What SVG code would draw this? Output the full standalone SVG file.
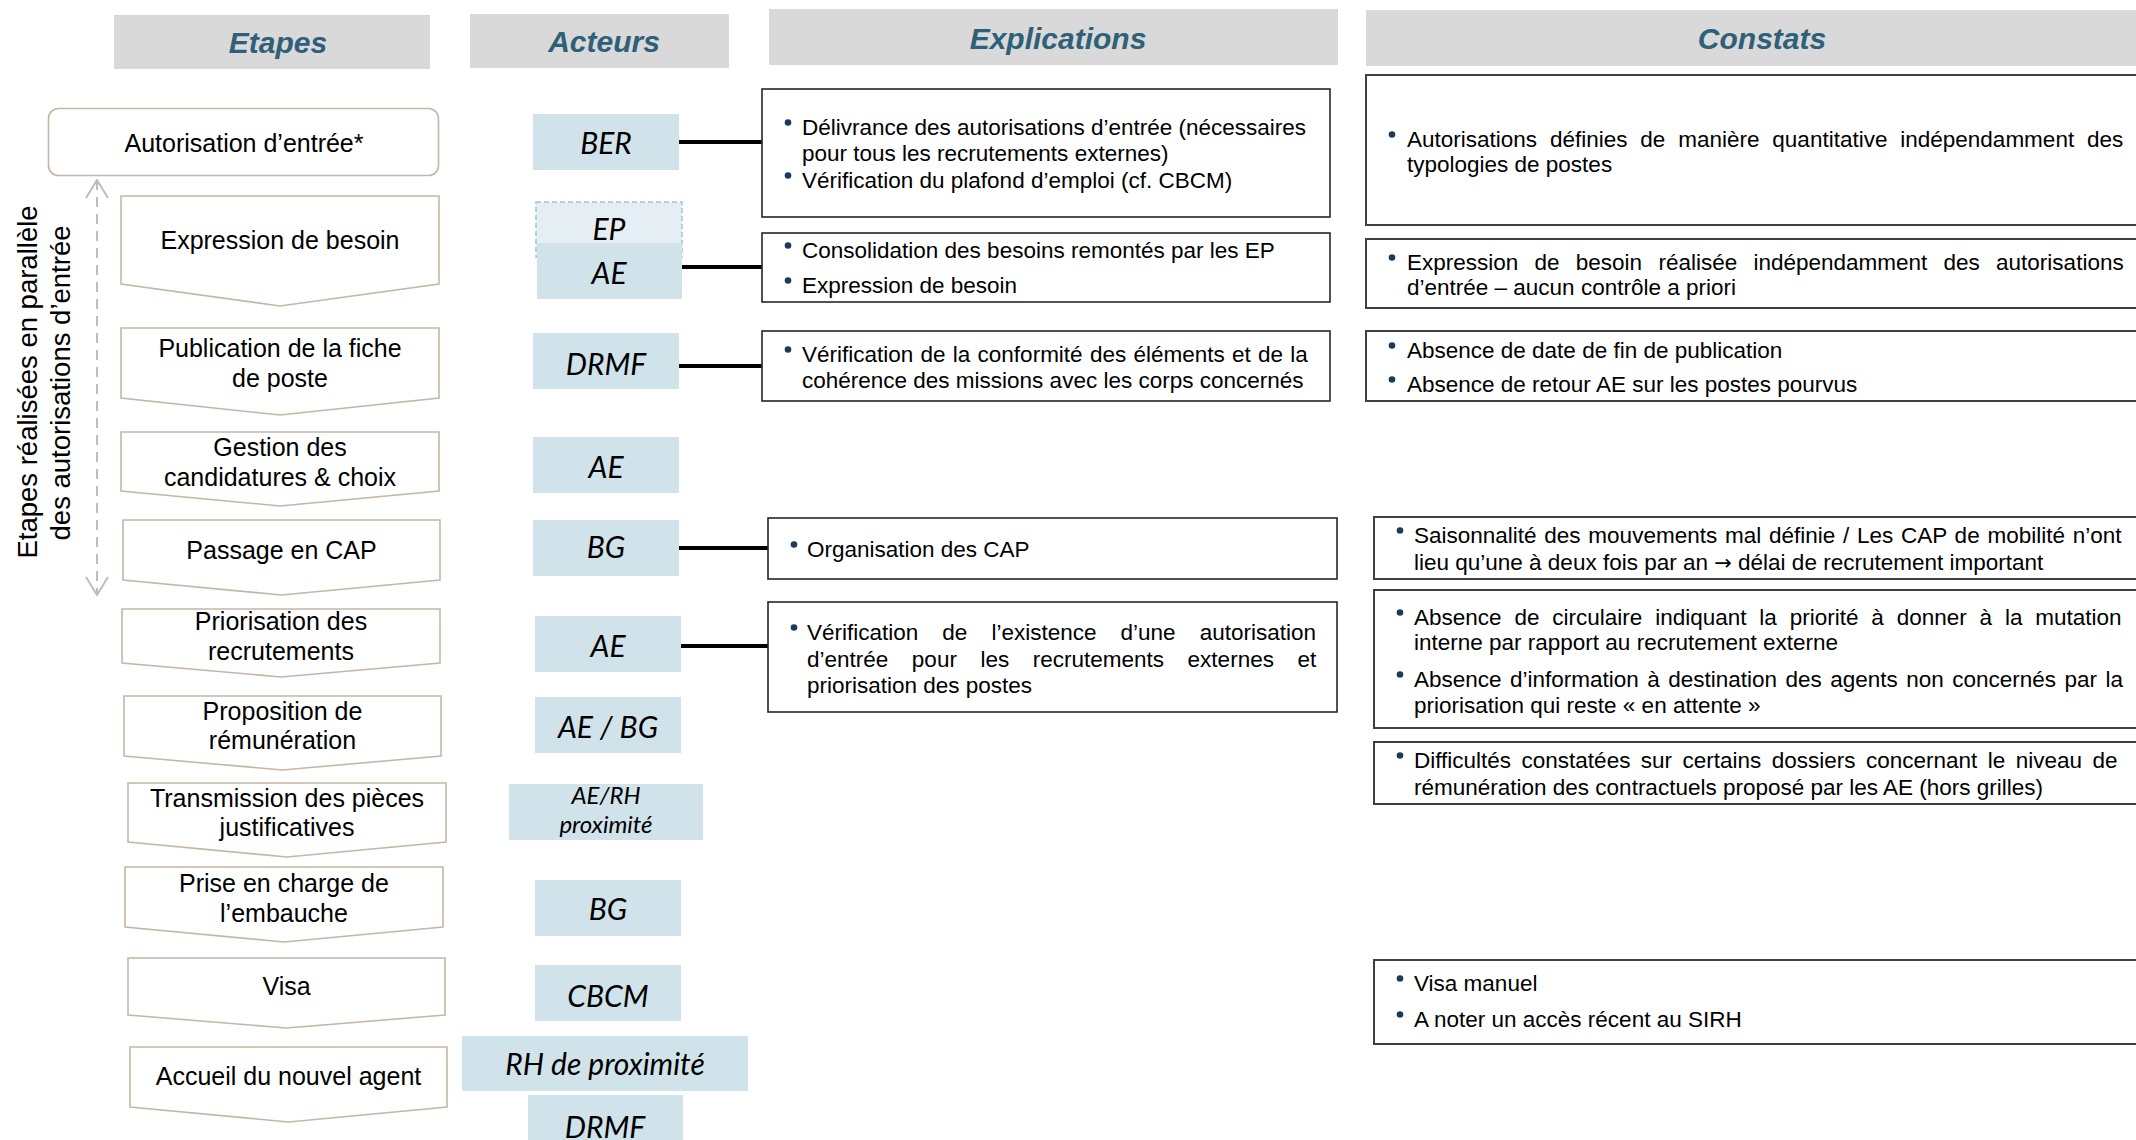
<svg xmlns="http://www.w3.org/2000/svg" width="2136" height="1140" viewBox="0 0 2136 1140">
<style>
.hdr{fill:#d9d9d9}
.htx{font-family:"Liberation Sans",Arial,sans-serif;font-weight:bold;font-style:italic;font-size:30px;fill:#2f6079;text-anchor:middle}
.step{fill:#fff;stroke:#c6b6a6;stroke-width:1.6}
.stx{font-family:"Liberation Sans",Arial,sans-serif;font-size:25px;fill:#000;text-anchor:middle}
.act{fill:#d1e3ea}
.atx{font-family:Lato,"Open Sans",sans-serif;font-style:italic;font-size:30px;fill:#000;text-anchor:middle}
.ebox{fill:#fff;stroke:#262626;stroke-width:1.6}
.cbox{fill:#fff;stroke:#3f3f3f;stroke-width:2}
.btx{font-family:"Liberation Sans",Arial,sans-serif;font-size:22.5px;fill:#000}
.bul{fill:#1b3a5c}
.conn{stroke:#000;stroke-width:4;fill:none}
.side{font-family:"Liberation Sans",Arial,sans-serif;font-size:27.5px;fill:#000;text-anchor:middle}
</style>
<defs>
<marker id="chev" viewBox="0 0 20 24" refX="19" refY="12" markerWidth="20" markerHeight="24" markerUnits="userSpaceOnUse" orient="auto-start-reverse">
<path d="M1,1 L19,12 L1,23" fill="none" stroke="#bdbdbd" stroke-width="2"/>
</marker>
</defs>

<g id="headers">
<rect class="hdr" x="114" y="15" width="316" height="54"/>
<text class="htx" x="278" y="53">Etapes</text>
<rect class="hdr" x="470" y="14" width="259" height="54"/>
<text class="htx" x="604" y="52">Acteurs</text>
<rect class="hdr" x="769" y="9" width="569" height="56"/>
<text class="htx" x="1058" y="49">Explications</text>
<rect class="hdr" x="1366" y="10" width="775" height="56"/>
<text class="htx" x="1762" y="49">Constats</text>
</g>

<g id="side-note">
<path d="M97,180 L97,595" stroke="#bdbdbd" stroke-width="2" stroke-dasharray="10,7" fill="none" marker-start="url(#chev)" marker-end="url(#chev)"/>
<text class="side" transform="translate(37,382) rotate(-90)">Etapes réalisées en parallèle</text>
<text class="side" transform="translate(70,383) rotate(-90)">des autorisations d’entrée</text>
</g>

<g id="step-autorisation">
<rect class="step" x="48.5" y="108.5" width="390" height="67" rx="10"/>
<text class="stx" x="244" y="152">Autorisation d’entrée*</text>
</g>
<g id="step-expression">
<polygon class="step" points="121,196 439,196 439,284 280,306 121,284"/>
<text class="stx" x="280" y="249">Expression de besoin</text>
</g>
<g id="step-publication">
<polygon class="step" points="121,328 439,328 439,398 280,415 121,398"/>
<text class="stx" x="280" y="357">Publication de la fiche</text>
<text class="stx" x="280" y="387">de poste</text>
</g>
<g id="step-gestion">
<polygon class="step" points="121,432 439,432 439,491 280,506 121,491"/>
<text class="stx" x="280" y="456">Gestion des</text>
<text class="stx" x="280" y="486">candidatures &amp; choix</text>
</g>
<g id="step-cap">
<polygon class="step" points="123,520 440,520 440,580 281.5,595 123,580"/>
<text class="stx" x="281.5" y="559">Passage en CAP</text>
</g>
<g id="step-priorisation">
<polygon class="step" points="122,609 440,609 440,663 281,677 122,663"/>
<text class="stx" x="281" y="630">Priorisation des</text>
<text class="stx" x="281" y="660">recrutements</text>
</g>
<g id="step-proposition">
<polygon class="step" points="124,696 441,696 441,756 282.5,770 124,756"/>
<text class="stx" x="282.5" y="720">Proposition de</text>
<text class="stx" x="282.5" y="749">rémunération</text>
</g>
<g id="step-transmission">
<polygon class="step" points="128,783 446,783 446,842 287,857 128,842"/>
<text class="stx" x="287" y="807">Transmission des pièces</text>
<text class="stx" x="287" y="836">justificatives</text>
</g>
<g id="step-prise">
<polygon class="step" points="125,867 443,867 443,927 284,942 125,927"/>
<text class="stx" x="284" y="892">Prise en charge de</text>
<text class="stx" x="284" y="922">l’embauche</text>
</g>
<g id="step-visa">
<polygon class="step" points="128,958 445,958 445,1015 286.5,1028 128,1015"/>
<text class="stx" x="286.5" y="995">Visa</text>
</g>
<g id="step-accueil">
<polygon class="step" points="130,1047 447,1047 447,1107 288.5,1122 130,1107"/>
<text class="stx" x="288.5" y="1085">Accueil du nouvel agent</text>
</g>

<g id="connectors">
<line class="conn" x1="679" y1="142" x2="763" y2="142"/>
<line class="conn" x1="682" y1="267" x2="763" y2="267"/>
<line class="conn" x1="679" y1="366" x2="763" y2="366"/>
<line class="conn" x1="679" y1="548" x2="769" y2="548"/>
<line class="conn" x1="681" y1="646" x2="769" y2="646"/>
</g>

<g id="actor-ber"><rect class="act" x="533" y="114" width="146" height="56"/><text class="atx" x="606" y="154">BER</text></g>
<g id="actor-ep"><rect x="536" y="202" width="146" height="55" fill="#e5eef3" stroke="#9ec5d8" stroke-width="1.5" stroke-dasharray="5,3"/><text class="atx" x="609" y="240">EP</text></g>
<g id="actor-ae1"><rect class="act" x="537" y="243" width="145" height="56"/><text class="atx" x="609" y="284">AE</text></g>
<g id="actor-drmf1"><rect class="act" x="533" y="333" width="146" height="56"/><text class="atx" x="606" y="375">DRMF</text></g>
<g id="actor-ae2"><rect class="act" x="533" y="437" width="146" height="56"/><text class="atx" x="606" y="478">AE</text></g>
<g id="actor-bg1"><rect class="act" x="533" y="520" width="146" height="56"/><text class="atx" x="606" y="558">BG</text></g>
<g id="actor-ae3"><rect class="act" x="535" y="616" width="146" height="56"/><text class="atx" x="608" y="657">AE</text></g>
<g id="actor-aebg"><rect class="act" x="535" y="697" width="146" height="56"/><text class="atx" x="608" y="738">AE / BG</text></g>
<g id="actor-aerh"><rect class="act" x="509" y="784" width="194" height="56"/><text class="atx" x="606" y="804" style="font-size:24px">AE/RH</text><text class="atx" x="606" y="833" style="font-size:24px">proximité</text></g>
<g id="actor-bg2"><rect class="act" x="535" y="880" width="146" height="56"/><text class="atx" x="608" y="920">BG</text></g>
<g id="actor-cbcm"><rect class="act" x="535" y="965" width="146" height="56"/><text class="atx" x="608" y="1007">CBCM</text></g>
<g id="actor-rh"><rect class="act" x="462" y="1036" width="286" height="55"/><text class="atx" x="605" y="1075">RH de proximité</text></g>
<g id="actor-drmf2"><rect class="act" x="528" y="1095" width="155" height="50"/><text class="atx" x="605" y="1138">DRMF</text></g>

<g id="expl-1">
<rect class="ebox" x="762" y="89" width="568" height="128"/>
<circle class="bul" cx="788" cy="122.5" r="3.3"/>
<text class="btx" x="802" y="135">Délivrance des autorisations d’entrée (nécessaires</text>
<text class="btx" x="802" y="161">pour tous les recrutements externes)</text>
<circle class="bul" cx="788" cy="175.5" r="3.3"/>
<text class="btx" x="802" y="188">Vérification du plafond d’emploi (cf. CBCM)</text>
</g>
<g id="expl-2">
<rect class="ebox" x="762" y="233" width="568" height="69"/>
<circle class="bul" cx="788" cy="245.5" r="3.3"/>
<text class="btx" x="802" y="258">Consolidation des besoins remontés par les EP</text>
<circle class="bul" cx="788" cy="280.5" r="3.3"/>
<text class="btx" x="802" y="293">Expression de besoin</text>
</g>
<g id="expl-3">
<rect class="ebox" x="762" y="331" width="568" height="70"/>
<circle class="bul" cx="788" cy="349.5" r="3.3"/>
<text class="btx" x="802" y="362" word-spacing="1">Vérification de la conformité des éléments et de la</text>
<text class="btx" x="802" y="388">cohérence des missions avec les corps concernés</text>
</g>
<g id="expl-4">
<rect class="ebox" x="768" y="518" width="569" height="61"/>
<circle class="bul" cx="794" cy="544.5" r="3.3"/>
<text class="btx" x="807" y="557">Organisation des CAP</text>
</g>
<g id="expl-5">
<rect class="ebox" x="768" y="602" width="569" height="110"/>
<circle class="bul" cx="794" cy="627.5" r="3.3"/>
<text class="btx" x="807" y="640" word-spacing="17.8">Vérification de l’existence d’une autorisation</text>
<text class="btx" x="807" y="667" word-spacing="17.3">d’entrée pour les recrutements externes et</text>
<text class="btx" x="807" y="693">priorisation des postes</text>
</g>

<g id="const-1">
<rect class="cbox" x="1366" y="75" width="780" height="150"/>
<circle class="bul" cx="1392" cy="134.5" r="3.3"/>
<text class="btx" x="1407" y="147" word-spacing="6.6">Autorisations définies de manière quantitative indépendamment des</text>
<text class="btx" x="1407" y="172">typologies de postes</text>
</g>
<g id="const-2">
<rect class="cbox" x="1366" y="239" width="780" height="69"/>
<circle class="bul" cx="1392" cy="257.5" r="3.3"/>
<text class="btx" x="1407" y="270" word-spacing="10">Expression de besoin réalisée indépendamment des autorisations</text>
<text class="btx" x="1407" y="295">d’entrée – aucun contrôle a priori</text>
</g>
<g id="const-3">
<rect class="cbox" x="1366" y="331" width="780" height="70"/>
<circle class="bul" cx="1392" cy="345.5" r="3.3"/>
<text class="btx" x="1407" y="358">Absence de date de fin de publication</text>
<circle class="bul" cx="1392" cy="379.5" r="3.3"/>
<text class="btx" x="1407" y="392">Absence de retour AE sur les postes pourvus</text>
</g>
<g id="const-4">
<rect class="cbox" x="1374" y="517" width="772" height="62"/>
<circle class="bul" cx="1400" cy="530.5" r="3.3"/>
<text class="btx" x="1414" y="543" word-spacing="1.5">Saisonnalité des mouvements mal définie / Les CAP de mobilité n’ont</text>
<text class="btx" x="1414" y="570">lieu qu’une à deux fois par an <tspan style="font-family:'DejaVu Sans',sans-serif;font-size:21px">→</tspan> délai de recrutement important</text>
</g>
<g id="const-5">
<rect class="cbox" x="1374" y="590" width="772" height="138"/>
<circle class="bul" cx="1400" cy="612.5" r="3.3"/>
<text class="btx" x="1414" y="625" word-spacing="6.6">Absence de circulaire indiquant la priorité à donner à la mutation</text>
<text class="btx" x="1414" y="650">interne par rapport au recrutement externe</text>
<circle class="bul" cx="1400" cy="674.5" r="3.3"/>
<text class="btx" x="1414" y="687" word-spacing="2.2">Absence d’information à destination des agents non concernés par la</text>
<text class="btx" x="1414" y="713">priorisation qui reste « en attente »</text>
</g>
<g id="const-6">
<rect class="cbox" x="1374" y="742" width="772" height="62"/>
<circle class="bul" cx="1400" cy="755.5" r="3.3"/>
<text class="btx" x="1414" y="768" word-spacing="4.2">Difficultés constatées sur certains dossiers concernant le niveau de</text>
<text class="btx" x="1414" y="795">rémunération des contractuels proposé par les AE (hors grilles)</text>
</g>
<g id="const-7">
<rect class="cbox" x="1374" y="960" width="772" height="84"/>
<circle class="bul" cx="1400" cy="978.5" r="3.3"/>
<text class="btx" x="1414" y="991">Visa manuel</text>
<circle class="bul" cx="1400" cy="1014.5" r="3.3"/>
<text class="btx" x="1414" y="1027">A noter un accès récent au SIRH</text>
</g>
</svg>
